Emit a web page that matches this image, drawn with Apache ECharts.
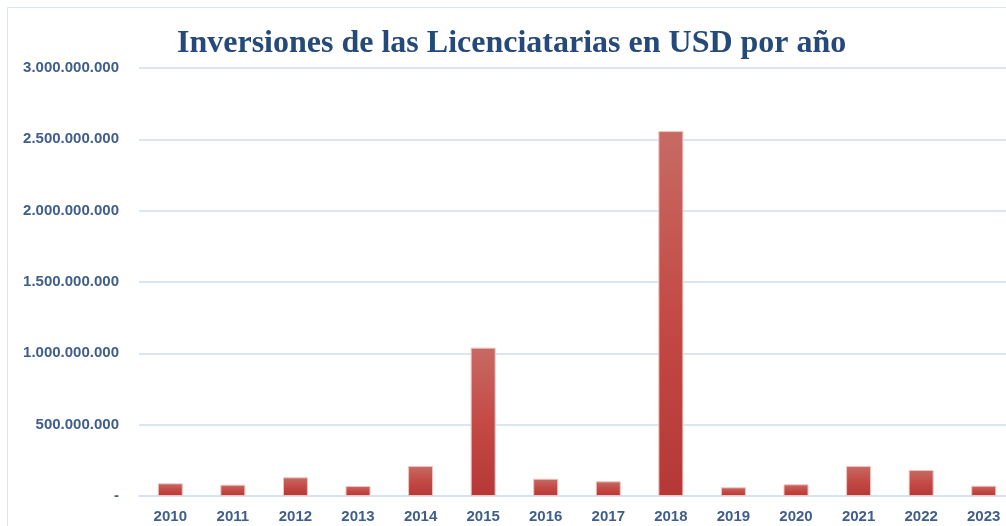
<!DOCTYPE html>
<html><head><meta charset="utf-8">
<script src="https://cdn.jsdelivr.net/npm/echarts@6/dist/echarts.min.js"></script>
<style>html,body{margin:0;padding:0;background:#fff;overflow:hidden;width:1006px;height:526px}#c{width:1015px;height:526px}</style>
</head><body><div id="c"></div>
<script>
var titleText = 'Inversiones de las Licenciatarias en USD por año';
var years = ['2010','2011','2012','2013','2014','2015','2016','2017','2018','2019','2020','2021','2022','2023'];
var values = [89000000, 79000000, 131000000, 70000000, 210000000, 1040000000, 121000000, 103000000, 2558000000, 61000000, 82000000, 210000000, 182000000, 72000000];
var yMax = 3000000000;
var yInterval = 500000000;

function fmt(v){
  if (v === 0) return '-';
  return String(Math.round(v)).replace(/\B(?=(\d{3})+(?!\d))/g, '.');
}
var chart = echarts.init(document.getElementById('c'));
chart.setOption({
  animation: false,
  backgroundColor: '#fff',
  graphic: [{type:'rect', shape:{x:7.5,y:7.5,width:1010,height:530}, style:{fill:'none', stroke:'#d9e4f2', lineWidth:1}, silent:true}],
  title: {
    text: titleText, left: 172, top: 23,
    textStyle: {fontFamily: 'Liberation Serif', fontWeight: 'bold', fontSize: 32, color: '#24497a'}
  },
  grid: {left: 139, right: 0, top: 68, bottom: 30, containLabel: false},
  xAxis: {
    type: 'category', data: years,
    axisLine: {show: true, lineStyle: {color: '#d6e3f3', width: 2}},
    axisTick: {show: false},
    axisLabel: {fontFamily: 'Liberation Sans', fontWeight: 'bold', fontSize: 15, color: '#3f5e8c', margin: 13}
  },
  yAxis: {
    type: 'value', min: 0, max: yMax, interval: yInterval,
    axisLine: {show: false}, axisTick: {show: false},
    splitLine: {lineStyle: {color: '#dbe6f4', width: 2}},
    axisLabel: {fontFamily: 'Liberation Sans', fontWeight: 'bold', fontSize: 15, color: '#3f5e8c', margin: 20, formatter: fmt}
  },
  series: [{
    type: 'bar', data: values, barWidth: 25,
    itemStyle: {
      color: new echarts.graphic.LinearGradient(0,0,0,1,[{offset:0,color:'#c76a64'},{offset:0.5,color:'#c44a45'},{offset:1,color:'#b53836'}]),
      borderColor: '#efc4c2', borderWidth: 1
    }
  }]
});
</script></body></html>
